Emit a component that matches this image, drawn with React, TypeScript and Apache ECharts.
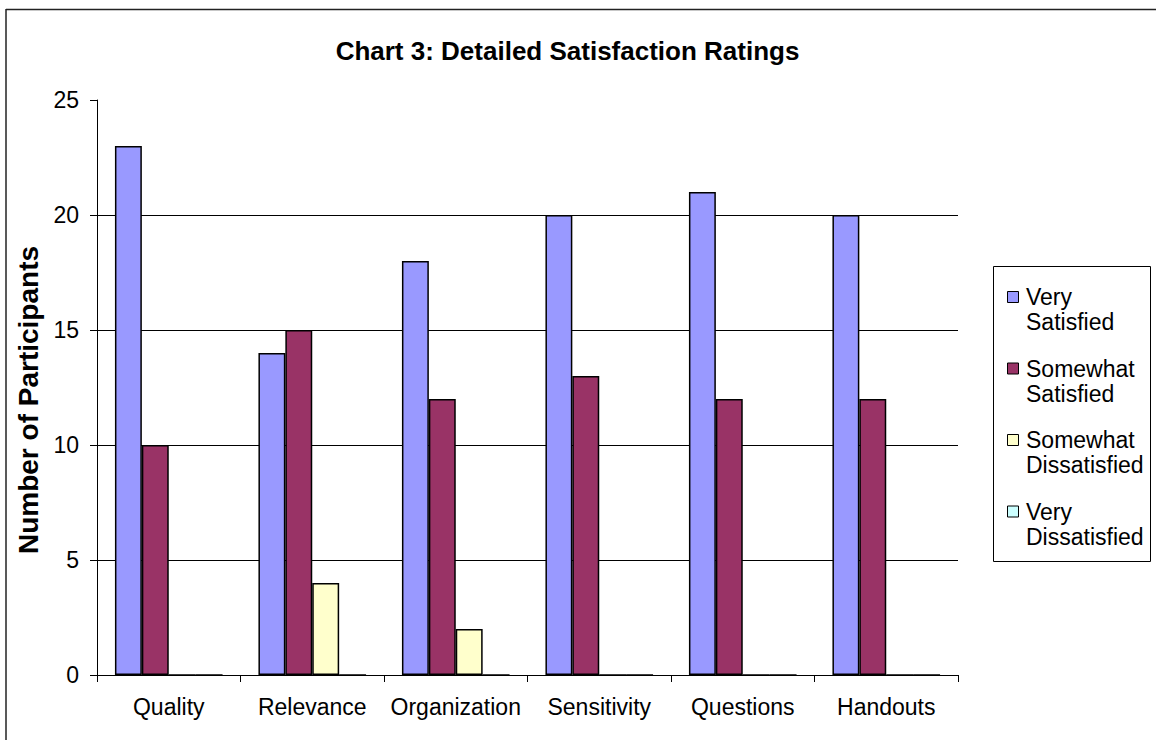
import React, { useEffect, useRef } from "react";
import * as echarts from "echarts";

const categories = ["Quality", "Relevance", "Organization", "Sensitivity", "Questions", "Handouts"];
const seriesNames = ["Very\nSatisfied", "Somewhat\nSatisfied", "Somewhat\nDissatisfied", "Very\nDissatisfied"];
const verySatisfied = [23, 14, 18, 20, 21, 20];
const somewhatSatisfied = [10, 15, 12, 13, 12, 12];
const somewhatDissatisfied = [0, 4, 2, 0, 0, 0];
const veryDissatisfied = [0, 0, 0, 0, 0, 0];
const colors = ["#9999FF", "#993366", "#FFFFCC", "#CCFFFF"];
const yTicks = { min: 0, max: 25, interval: 5 };
const titleText = "Chart 3: Detailed Satisfaction Ratings";
const yAxisTitle = "Number of Participants";

const FONT = "Arial, 'Liberation Sans', sans-serif";

export default function App() {
  const ref = useRef<HTMLDivElement>(null);
  useEffect(() => {
    if (!ref.current) return;
    const chart = echarts.init(ref.current, undefined, { renderer: "svg" });
    const values = [verySatisfied, somewhatSatisfied, somewhatDissatisfied, veryDissatisfied];
    const legendGraphics: any[] = [
      {
        type: "rect",
        shape: { x: 993.5, y: 266.5, width: 157, height: 295 },
        style: { fill: "#fff", stroke: "#000", lineWidth: 1 },
        z: 10,
      },
    ];
    seriesNames.forEach((n, i) => {
      const cy = 297 + i * 71.5;
      legendGraphics.push({
        type: "rect",
        shape: { x: 1007.5, y: cy - 5.5, width: 11, height: 11 },
        style: { fill: colors[i], stroke: "#000", lineWidth: 1 },
        z: 11,
      });
      legendGraphics.push({
        type: "text",
        x: 1026,
        y: cy - 12.5,
        style: {
          text: n,
          font: `23px ${FONT}`,
          fill: "#000",
          lineHeight: 25,
          verticalAlign: "top",
          textAlign: "left",
        },
        z: 11,
      });
    });
    chart.setOption({
      animation: false,
      backgroundColor: "#fff",
      grid: { left: 97, top: 100, right: 198, bottom: 65, containLabel: false },
      xAxis: {
        type: "category",
        data: categories,
        axisLine: { show: true, lineStyle: { color: "#000", width: 1 } },
        axisTick: { show: true, length: 7, alignWithLabel: false, interval: 0, lineStyle: { color: "#000" } },
        axisLabel: { color: "#000", fontSize: 23, fontFamily: FONT, margin: 20, interval: 0 },
        splitLine: { show: false },
      },
      yAxis: {
        type: "value",
        min: yTicks.min,
        max: yTicks.max,
        interval: yTicks.interval,
        axisLine: { show: true, lineStyle: { color: "#000", width: 1 } },
        axisTick: { show: true, length: 7, lineStyle: { color: "#000" } },
        axisLabel: { color: "#000", fontSize: 23, fontFamily: FONT, margin: 18 },
        splitLine: { show: true, showMaxLine: false, lineStyle: { color: "#000", width: 1 } },
      },
      series: seriesNames.map((n, i) => ({
        name: n,
        type: "bar",
        data: values[i],
        barGap: "0%",
        barCategoryGap: "25%",
        itemStyle: { color: colors[i], borderColor: "#000", borderWidth: 1.5 },
      })),
      graphic: [
        {
          type: "line",
          shape: { x1: 6, y1: 9.5, x2: 1200, y2: 9.5 },
          style: { stroke: "#222", lineWidth: 1.5 },
        },
        {
          type: "line",
          shape: { x1: 6, y1: 9, x2: 6, y2: 800 },
          style: { stroke: "#222", lineWidth: 1.5 },
        },
        {
          type: "text",
          x: 567.5,
          y: 51,
          style: {
            text: titleText,
            font: `bold 26px ${FONT}`,
            fill: "#000",
            textAlign: "center",
            verticalAlign: "middle",
          },
        },
        {
          type: "text",
          x: 28.5,
          y: 400,
          rotation: Math.PI / 2,
          style: {
            text: yAxisTitle,
            font: `bold 28px ${FONT}`,
            fill: "#000",
            textAlign: "center",
            verticalAlign: "middle",
          },
        },
        ...legendGraphics,
      ],
    });
    return () => chart.dispose();
  }, []);
  return (
    <div
      ref={ref}
      style={{ position: "fixed", left: 0, top: 0, width: 1156, height: 740 }}
    />
  );
}
